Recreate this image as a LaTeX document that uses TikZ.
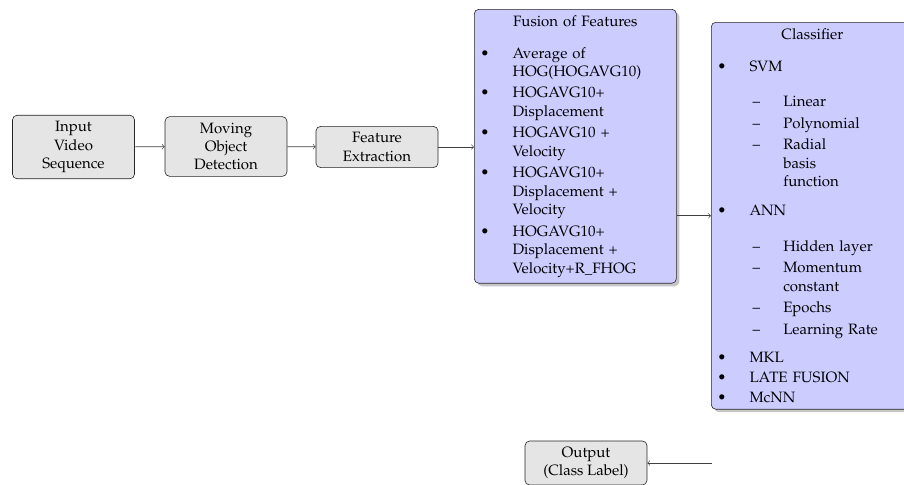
\documentclass[tikz,border=0pt]{standalone}
\usepackage[T1]{fontenc}
\usepackage{mathpazo}
\linespread{1.025}
\usetikzlibrary{shadows}

\newenvironment{featlist}[1][2pt]{\begin{list}{\textbullet}{\setlength{\leftmargin}{21.5pt}\setlength{\labelwidth}{21.5pt}\setlength{\labelsep}{0pt}\setlength{\itemsep}{#1}\setlength{\parsep}{0pt}\setlength{\topsep}{9pt}\setlength{\partopsep}{0pt}\renewcommand{\makelabel}[1]{##1\hfil}}\raggedright}{\end{list}}
\newenvironment{sublist}[1][2pt]{\par\kern4.5pt\begin{list}{\textendash}{\setlength{\leftmargin}{22.5pt}\setlength{\labelwidth}{22.5pt}\setlength{\labelsep}{0pt}\setlength{\itemsep}{#1}\setlength{\parsep}{0pt}\setlength{\topsep}{7pt}\setlength{\partopsep}{0pt}\renewcommand{\makelabel}[1]{\hspace{2pt}##1\hfil}}\raggedright}{\end{list}}

\begin{document}
\begin{tikzpicture}[x=0.6667pt,y=-0.6667pt]
\tikzstyle{stage}=[draw=black!85, fill=black!10, rounded corners=3pt, align=center, minimum width=81.3pt, inner sep=4pt]
\tikzstyle{panel}=[draw=black!85, fill=blue!20, rounded corners=3pt, text width=126.7pt, inner sep=4pt, anchor=north west, drop shadow={shadow xshift=2pt, shadow yshift=-2pt, opacity=0.45}]
\tikzstyle{link}=[->, black!75]
\useasboundingbox (0,0) rectangle (904,484);
\node [stage] (input) at (73.5,147) {Input\\Video\\Sequence};
\node [stage] (detect) at (226,146.5) {Moving\\Object\\Detection};
\node [stage] (extract) at (377,147) {Feature\\Extraction};
\node [panel] (fusion) at (474,9) {{\centering Fusion of Features\par}
\begin{featlist}
\item Average of\newline HOG(HOGAVG10)
\item HOGAVG10+\newline Displacement
\item HOGAVG10 +\newline Velocity
\item HOGAVG10+\newline Displacement +\newline Velocity
\item HOGAVG10+\newline Displacement +\newline Velocity+R\_FHOG
\end{featlist}};
\node [panel] (classifier) at (711,22) {{\centering Classifier\par}
\begin{featlist}[1pt]
\item SVM
\begin{sublist}
\item Linear
\item Polynomial
\item Radial\newline basis\newline function
\end{sublist}
\item ANN
\begin{sublist}
\item Hidden layer
\item Momentum\newline constant
\item Epochs
\item Learning Rate
\end{sublist}
\item MKL
\item LATE FUSION
\item McNN
\end{featlist}};
\node [stage] (output) at (586,463) {Output\\(Class Label)};
\coordinate (clsout) at (712,463);
% connectors
\draw [link] (input) -- (detect);
\draw [link] (detect) -- (extract);
\draw [link] (extract.east) -- (extract.east -| fusion.west);
\draw [link] (fusion.east |- classifier.west) -- (classifier.west);
\draw [link] (clsout) -- (output.east);
\end{tikzpicture}
\end{document}
